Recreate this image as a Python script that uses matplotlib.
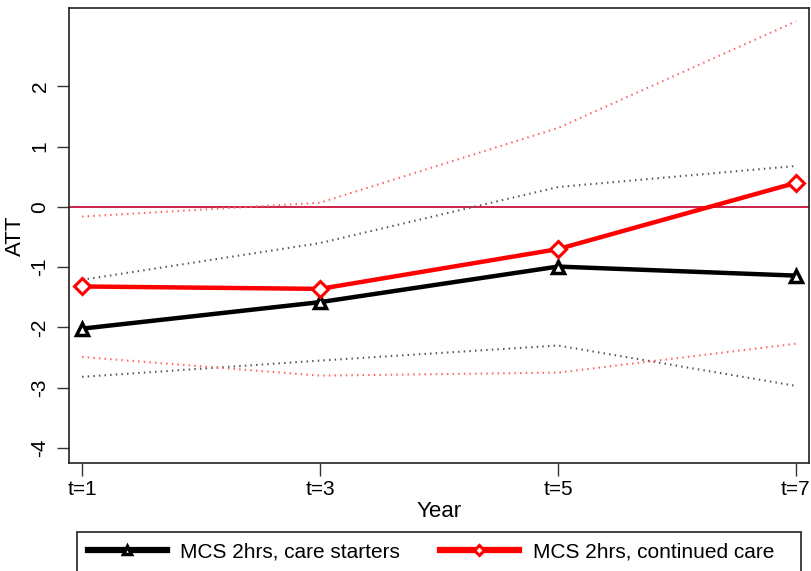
import matplotlib.pyplot as plt
from matplotlib.patches import Rectangle

plt.rcParams['font.family'] = ['Liberation Sans', 'DejaVu Sans']
plt.rcParams['axes.unicode_minus'] = False

years = [1, 3, 5, 7]
year_labels = ["t=1", "t=3", "t=5", "t=7"]

# point estimates
att_starters = [-2.02, -1.58, -0.99, -1.14]
att_continued = [-1.32, -1.36, -0.70, 0.40]

# confidence bands
starters_hi = [-1.21, -0.60, 0.33, 0.68]
starters_lo = [-2.82, -2.55, -2.30, -2.97]
continued_hi = [-0.16, 0.07, 1.31, 3.08]
continued_lo = [-2.49, -2.80, -2.75, -2.27]

fig = plt.figure(figsize=(8.12, 5.71), dpi=100)
ax = fig.add_axes([69 / 812, 1 - 463 / 571, 740 / 812, 455.5 / 571])

ax.axhline(0, color="#c8103c", linewidth=1.3, zorder=1)

dot = (0, (0.7, 2.0))
ax.plot(years, starters_hi, color="#555555", linestyle=dot, linewidth=1.5)
ax.plot(years, starters_lo, color="#555555", linestyle=dot, linewidth=1.5)
ax.plot(years, continued_hi, color="#ff6060", linestyle=dot, linewidth=1.5)
ax.plot(years, continued_lo, color="#ff6060", linestyle=dot, linewidth=1.5)

ax.plot(years, att_starters, color="black", linewidth=3.2,
        marker="^", markersize=9, markerfacecolor="white",
        markeredgecolor="black", markeredgewidth=2.5,
        label="MCS 2hrs, care starters", zorder=4)
ax.plot(years, att_continued, color="red", linewidth=3.2,
        marker="D", markersize=8, markerfacecolor="white",
        markeredgecolor="red", markeredgewidth=2.2,
        label="MCS 2hrs, continued care", zorder=4)

ax.set_xlim(0.89, 7.11)
ax.set_ylim(-4.25, 3.31)
ax.set_xticks(years)
ax.set_xticklabels(year_labels)
ax.set_yticks(range(-4, 3))
for lbl in ax.get_yticklabels():
    lbl.set_rotation(90)
    lbl.set_va("center")

ax.tick_params(axis="both", labelsize=15, length=9, width=1, color="#333333")
ax.tick_params(axis="x", pad=3)
ax.tick_params(axis="y", pad=5)
for sp in ax.spines.values():
    sp.set_linewidth(1.2)
    sp.set_color("#222222")

ax.set_xlabel("Year", fontsize=16, labelpad=2)
ax.set_ylabel("ATT", fontsize=16, labelpad=3)

# legend box runs off the bottom edge
fig.patches.append(Rectangle((77 / 812, -0.05), 724 / 812, 0.05 + 39 / 571,
                             transform=fig.transFigure, fill=False,
                             edgecolor="#222222", linewidth=1.2))
handles, labels = ax.get_legend_handles_labels()
leg = fig.legend(handles, labels, loc="center left", ncol=2,
                 bbox_to_anchor=(69 / 812, 1 - 552 / 571), frameon=False,
                 fontsize=15, handlelength=3.8, handletextpad=0.65,
                 columnspacing=1.9, markerscale=0.7)
for line in leg.get_lines():
    line.set_linewidth(4.5)

fig.savefig("out.png", dpi=100)
